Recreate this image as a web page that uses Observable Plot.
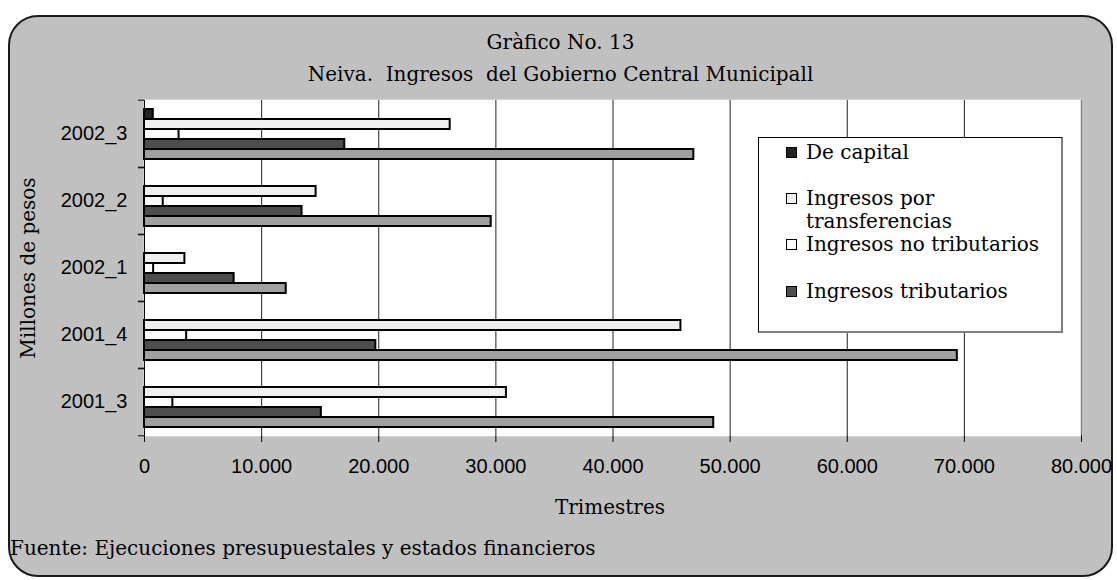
<!DOCTYPE html>
<html><head><meta charset="utf-8">
<script src="https://cdn.jsdelivr.net/npm/d3@7"></script>
<script src="https://cdn.jsdelivr.net/npm/@observablehq/plot@0.6"></script>
<style>
body{margin:0;background:#fff;}
#wrap{position:relative;width:1117px;height:580px;overflow:hidden;font-family:"DejaVu Serif",serif;color:#000;}
#panel{position:absolute;left:8px;top:15px;width:1101px;height:558px;background:#c0c0c0;border:2px solid #1a1a1a;border-radius:30px;}
#chart{position:absolute;left:0;top:0;}
.t{position:absolute;font-size:20px;line-height:20px;white-space:pre;}
#title,#subtitle{left:8px;width:1105px;text-align:center;}
#title{top:32px;}
#subtitle{top:64px;}
#xlabel{left:410px;width:400px;text-align:center;top:497px;}
#ylabel{left:-122px;top:258px;width:300px;text-align:center;transform:rotate(-90deg);}
#caption{left:10px;top:538px;}
#legend{position:absolute;left:758px;top:137px;width:302px;height:193px;background:#fff;border-top:1px solid #000;border-left:1px solid #000;border-right:2px solid #7f7f7f;border-bottom:2px solid #7f7f7f;}
.li{position:absolute;left:47px;width:250px;font-size:20px;line-height:23px;}
.sw{position:absolute;left:27px;width:9px;height:9px;border:1.5px solid #000;}
</style></head>
<body>
<div id="wrap">
  <div id="panel"></div>
  <div id="chart"></div>
  <div class="t" id="title"></div>
  <div class="t" id="subtitle"></div>
  <div class="t" id="xlabel"></div>
  <div class="t" id="ylabel"></div>
  <div class="t" id="caption"></div>
  <div id="legend"></div>
</div>
<script>
const titleText = "Gràfico No. 13";
const subtitleText = "Neiva.  Ingresos  del Gobierno Central Municipall";
const xLabelText = "Trimestres";
const yLabelText = "Millones de pesos";
const captionText = "Fuente: Ejecuciones presupuestales y estados financieros";

const categories = ["2002_3", "2002_2", "2002_1", "2001_4", "2001_3"];
const seriesNames = ["De capital", "Ingresos por transferencias", "Ingresos no tributarios", "Ingresos tributarios", "Ingresos totales"];
const seriesColors = ["#222222", "#f0f0f0", "#fafafa", "#4d4d4d", "#a0a0a0"];
const deCapital      = [750, 0, 0, 0, 0];
const transferencias = [26100, 14650, 3450, 45800, 30900];
const noTributarios  = [2950, 1600, 780, 3600, 2420];
const tributarios    = [17100, 13450, 7650, 19750, 15100];
const totales        = [46900, 29600, 12100, 69400, 48600];
const xTicks = [0, 10000, 20000, 30000, 40000, 50000, 60000, 70000, 80000];
const legendSeries = seriesNames.slice(0, 4);

const seriesValues = [deCapital, transferencias, noTributarios, tributarios, totales];
const rows = categories.flatMap((cat, i) => seriesNames.map((s, j) => ({cat, series: s, value: seriesValues[j][i]})));

const fmt = d3.formatLocale({decimal: ",", thousands: ".", grouping: [3], currency: ["$", ""]}).format(",d");

const chart = Plot.plot({
  width: 1117, height: 580,
  marginLeft: 144, marginRight: 36, marginTop: 98, marginBottom: 144,
  style: {background: "transparent", fontFamily: "'Liberation Sans', Arial, sans-serif", fontSize: "20px", color: "#000", overflow: "visible"},
  x: {domain: [0, 80000]},
  y: {domain: seriesNames, paddingInner: 0, paddingOuter: 0.63, axis: null},
  fy: {domain: categories, padding: 0},
  color: {domain: seriesNames, range: seriesColors},
  marks: [
    Plot.frame({fill: "white", stroke: "white", strokeWidth: 1.5}),
    Plot.gridX(xTicks.slice(1, -1), {stroke: "#222", strokeOpacity: 1}),
    Plot.ruleX([80000], {stroke: "#808080", strokeWidth: 1.5}),
    Plot.barX(rows, {fy: "cat", y: "series", x: "value", fill: "series", stroke: "#000", strokeWidth: 2}),
    Plot.ruleX([0], {stroke: "#000"}),
    Plot.axisX(xTicks, {anchor: "bottom", tickSize: 7, tickPadding: 16, tickFormat: fmt, label: null, line: true, stroke: "#000"}),
    Plot.axisX([], {anchor: "top", tickSize: 0, label: null, line: true, stroke: "#808080"}),
    Plot.axisFy({anchor: "left", tickSize: 0, tickPadding: 17, label: null}),
    Plot.axisFy({anchor: "left", tickSize: 6, dy: -33.8, fill: "none", label: null, stroke: "#000"}),
    Plot.axisFy(categories.slice(-1), {anchor: "left", tickSize: 6, dy: 33.8, fill: "none", label: null, stroke: "#000"})
  ]
});
document.getElementById("chart").appendChild(chart);

document.getElementById("title").textContent = titleText;
document.getElementById("subtitle").textContent = subtitleText;
document.getElementById("xlabel").textContent = xLabelText;
document.getElementById("ylabel").textContent = yLabelText;
document.getElementById("caption").textContent = captionText;

const legend = document.getElementById("legend");
legendSeries.forEach((name, i) => {
  const baseline = 21 + i * 46.4;
  const sw = document.createElement("div");
  sw.className = "sw";
  sw.style.top = (baseline - 12.5) + "px";
  sw.style.background = seriesColors[seriesNames.indexOf(name)];
  legend.appendChild(sw);
  const li = document.createElement("div");
  li.className = "li";
  li.style.top = (baseline - 18.4) + "px";
  li.textContent = name;
  legend.appendChild(li);
});
</script>
</body></html>
